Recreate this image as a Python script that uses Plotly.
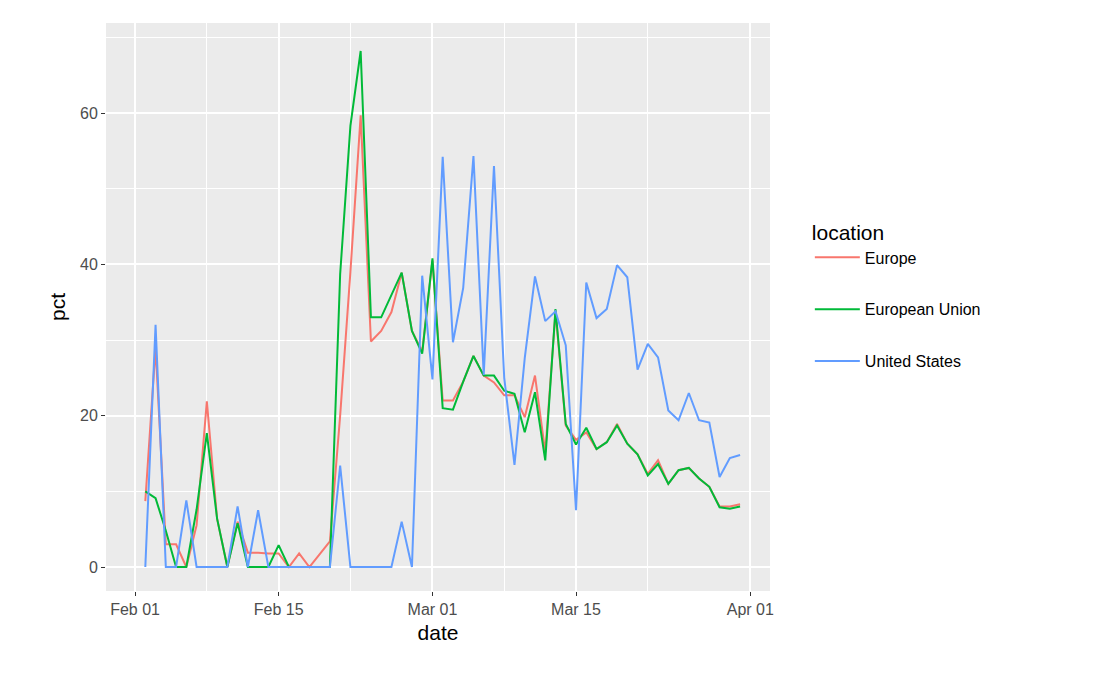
import pandas as pd
import plotly.graph_objects as go

dates = pd.date_range("2020-02-02", "2020-03-31", freq="D")

europe = [8.7, 29, 3.0, 3.0, 0, 5.5, 21.9, 6.4, 0, 6.0,
          1.9, 1.9, 1.8, 1.8, 0, 1.8, 0, 1.7, 3.4, 20,
          39, 59.7, 29.8, 31.2, 33.7, 38.9, 31.2, 28.5, 40.5, 22.0,
          22.0, 24.5, 27.9, 25.3, 24.4, 22.7, 22.7, 19.8, 25.3, 15.2,
          33.7, 18.7, 16.8, 17.8, 15.6, 16.5, 18.9, 16.3, 14.9, 12.3,
          14.1, 11.0, 12.8, 13.1, 11.7, 10.6, 8.0, 8.0, 8.3]
eu = [10.0, 9.1, 4.8, 0, 0, 7.6, 17.7, 6.4, 0, 5.8,
      0, 0, 0, 2.9, 0, 0, 0, 0, 0, 38.7,
      58.3, 68.2, 33.0, 33.0, 36.0, 38.9, 31.2, 28.2, 40.8, 21.0,
      20.8, 24.5, 27.9, 25.3, 25.3, 23.3, 22.9, 17.8, 23.1, 14.1,
      34.1, 18.9, 16.2, 18.4, 15.6, 16.5, 18.7, 16.3, 14.9, 12.1,
      13.6, 11.0, 12.8, 13.1, 11.7, 10.6, 7.9, 7.7, 8.0]
us = [0, 32, 0, 0, 8.8, 0, 0, 0, 0, 8.0,
      0, 7.5, 0, 0, 0, 0, 0, 0, 0, 13.4,
      0, 0, 0, 0, 0, 6.0, 0, 38.5, 24.8, 54.2,
      29.7, 36.9, 54.3, 25.4, 53.0, 25.0, 13.5, 27.6, 38.4, 32.5,
      33.8, 29.3, 7.5, 37.6, 32.9, 34.1, 39.9, 38.3, 26.1, 29.5,
      27.7, 20.7, 19.4, 23.0, 19.4, 19.1, 11.9, 14.4, 14.8]

series = [("Europe", europe, "#F8766D"),
          ("European Union", eu, "#00BA38"),
          ("United States", us, "#619CFF")]

fig = go.Figure()
for name, vals, col in series:
    fig.add_trace(go.Scatter(x=dates, y=vals, mode="lines", name=name,
                             legendgroup=name,
                             line=dict(color=col, width=2)))

fig.update_layout(
    width=1095, height=677,
    margin=dict(l=98, r=333, t=15, b=94, autoexpand=False),
    paper_bgcolor="white", plot_bgcolor="#EBEBEB",
    font=dict(family="Liberation Sans, Arial", color="black"),
    showlegend=True,
    legend=dict(title=dict(text="location", font=dict(size=21)),
                font=dict(size=16), bgcolor="white",
                x=1.06, xanchor="left", y=0.52, yanchor="middle",
                tracegroupgap=28, itemwidth=45),
)
fig.update_xaxes(
    automargin=False,
    range=["2020-01-29 04:00", "2020-04-02 22:00"],
    tickvals=["2020-02-01", "2020-02-15", "2020-03-01", "2020-03-15", "2020-04-01"],
    ticktext=["Feb 01", "Feb 15", "Mar 01", "Mar 15", "Apr 01"],
    tickfont=dict(size=16, color="#4D4D4D"), ticks="outside", ticklen=4,
    tickcolor="#333333", gridcolor="white", gridwidth=2, zeroline=False,
    showline=False,
    minor=dict(tickvals=["2020-02-08", "2020-02-22", "2020-03-08", "2020-03-22"],
               showgrid=True, gridcolor="white", gridwidth=1, ticks=""),
    title=dict(text="date", font=dict(size=21), standoff=8),
)
fig.update_yaxes(
    automargin=False,
    range=[-3.17, 71.9], tickvals=[0, 20, 40, 60],
    tickfont=dict(size=16, color="#4D4D4D"), ticks="outside", ticklen=4,
    tickcolor="#333333", gridcolor="white", gridwidth=2, zeroline=False,
    minor=dict(tickvals=[10, 30, 50, 70], showgrid=True, gridcolor="white",
               gridwidth=1, ticks=""),
    title=dict(text="pct", font=dict(size=21), standoff=8),
)

fig.write_html("out.html")
